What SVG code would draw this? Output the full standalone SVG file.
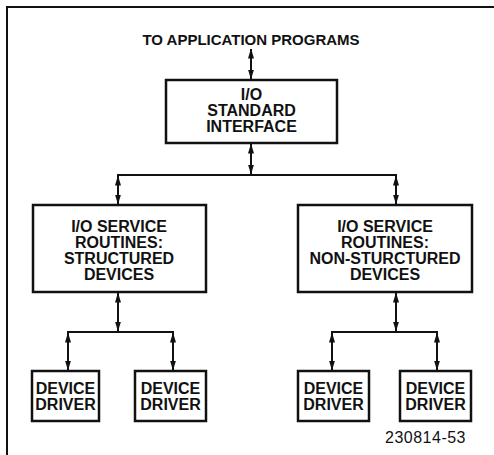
<svg xmlns="http://www.w3.org/2000/svg" width="494" height="455" viewBox="0 0 494 455">
<style>
.box{fill:#fff;stroke:#111;stroke-width:2.5}
.t{font-family:"Liberation Sans",Arial,sans-serif;font-weight:bold;font-size:16px;fill:#111;text-anchor:middle}
.h{font-family:"Liberation Sans",Arial,sans-serif;font-weight:bold;font-size:15px;fill:#111;text-anchor:middle}
.n{font-family:"Liberation Sans",Arial,sans-serif;font-size:16px;letter-spacing:0.5px;fill:#111;text-anchor:middle}
.c{fill:none;stroke:#111;stroke-width:2}
.frame{fill:none;stroke:#111;stroke-width:2}
</style>
<defs>
<marker id="ah" viewBox="0 0 10 6" refX="9.5" refY="3" markerWidth="10" markerHeight="6" markerUnits="userSpaceOnUse" orient="auto-start-reverse">
<path d="M0,0 L10,3 L0,6 Z" fill="#111"/>
</marker>
</defs>
<path class="frame" d="M7,455 V7 H494"/>
<text class="h" x="251" y="45">TO APPLICATION PROGRAMS</text>
<g id="connectors">
<line class="c" x1="251" y1="49" x2="251" y2="79" marker-start="url(#ah)" marker-end="url(#ah)"/>
<line class="c" x1="251" y1="144" x2="251" y2="174" marker-start="url(#ah)" marker-end="url(#ah)"/>
<line class="c" x1="117" y1="175" x2="397" y2="175"/>
<line class="c" x1="118" y1="176" x2="118" y2="204" marker-start="url(#ah)" marker-end="url(#ah)"/>
<line class="c" x1="396" y1="176" x2="396" y2="204" marker-start="url(#ah)" marker-end="url(#ah)"/>
<line class="c" x1="118" y1="293" x2="118" y2="331" marker-start="url(#ah)" marker-end="url(#ah)"/>
<line class="c" x1="67" y1="332" x2="174" y2="332"/>
<line class="c" x1="68" y1="333" x2="68" y2="370" marker-start="url(#ah)" marker-end="url(#ah)"/>
<line class="c" x1="173" y1="333" x2="173" y2="370" marker-start="url(#ah)" marker-end="url(#ah)"/>
<line class="c" x1="396" y1="293" x2="396" y2="331" marker-start="url(#ah)" marker-end="url(#ah)"/>
<line class="c" x1="331" y1="332" x2="438" y2="332"/>
<line class="c" x1="332" y1="333" x2="332" y2="370" marker-start="url(#ah)" marker-end="url(#ah)"/>
<line class="c" x1="437" y1="333" x2="437" y2="370" marker-start="url(#ah)" marker-end="url(#ah)"/>
</g>
<g id="std-interface">
<rect class="box" x="166" y="80" width="171" height="63"/>
<text class="t" x="251.5" y="100">I/O</text>
<text class="t" x="251.5" y="116">STANDARD</text>
<text class="t" x="251.5" y="132">INTERFACE</text>
</g>
<g id="svc-structured">
<rect class="box" x="33" y="205" width="173" height="87"/>
<text class="t" x="119" y="232">I/O SERVICE</text>
<text class="t" x="119" y="248">ROUTINES:</text>
<text class="t" x="119" y="264">STRUCTURED</text>
<text class="t" x="119" y="280">DEVICES</text>
</g>
<g id="svc-nonstructured">
<rect class="box" x="298" y="205" width="174" height="87"/>
<text class="t" x="385" y="232">I/O SERVICE</text>
<text class="t" x="385" y="248">ROUTINES:</text>
<text class="t" x="385" y="264">NON-STURCTURED</text>
<text class="t" x="385" y="280">DEVICES</text>
</g>
<g id="driver1">
<rect class="box" x="32" y="371" width="67" height="50"/>
<text class="t" x="65.5" y="394">DEVICE</text>
<text class="t" x="65.5" y="410">DRIVER</text>
</g>
<g id="driver2">
<rect class="box" x="135" y="371" width="71" height="50"/>
<text class="t" x="170.5" y="394">DEVICE</text>
<text class="t" x="170.5" y="410">DRIVER</text>
</g>
<g id="driver3">
<rect class="box" x="298" y="371" width="71" height="50"/>
<text class="t" x="333.5" y="394">DEVICE</text>
<text class="t" x="333.5" y="410">DRIVER</text>
</g>
<g id="driver4">
<rect class="box" x="400" y="371" width="71" height="50"/>
<text class="t" x="435.5" y="394">DEVICE</text>
<text class="t" x="435.5" y="410">DRIVER</text>
</g>
<text class="n" x="425.5" y="443">230814-53</text>
</svg>
